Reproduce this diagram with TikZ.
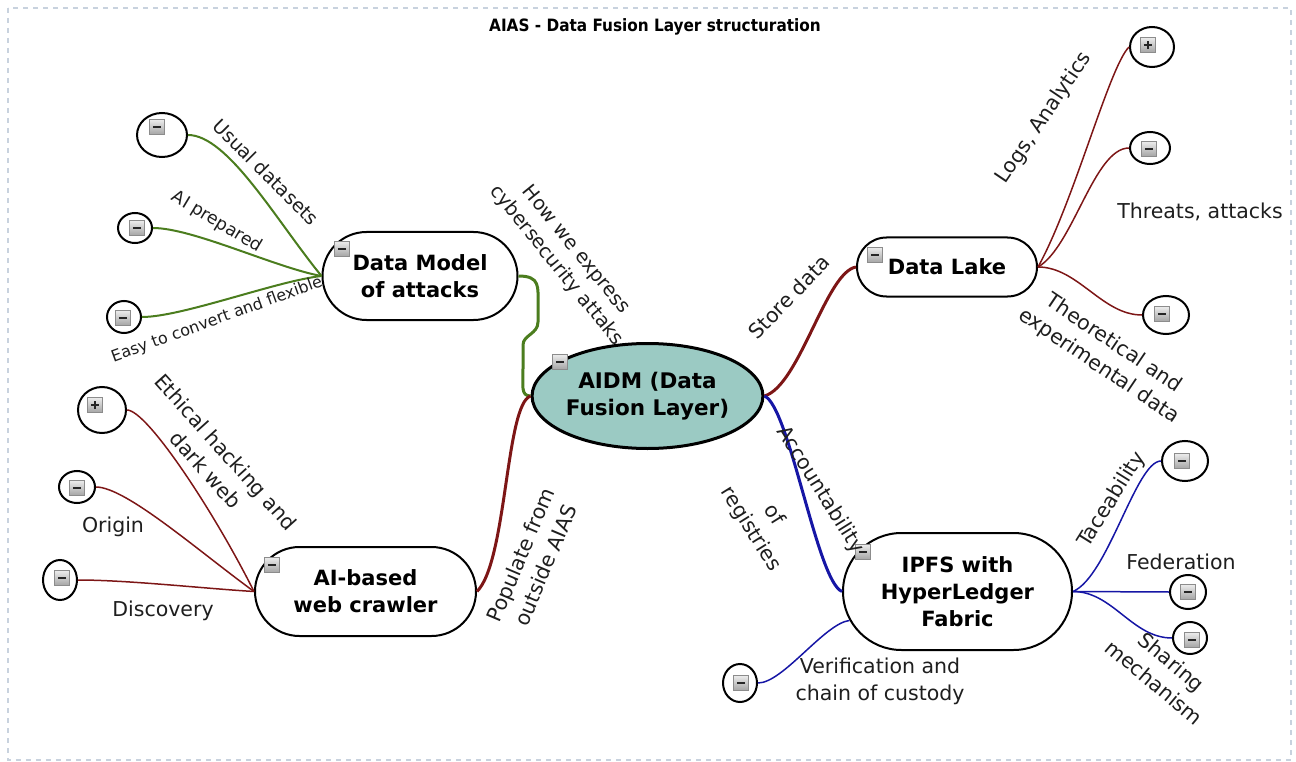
\documentclass[tikz,border=0pt]{standalone}
\usepackage{fontspec}
\setmainfont{DejaVu Sans}
\newfontfamily\condfont{DejaVu Sans Condensed}
\usetikzlibrary{shapes.geometric,shapes.misc}

\definecolor{aidmfill}{RGB}{155,202,195}
\definecolor{lgreen}{RGB}{75,125,30}
\definecolor{lred}{RGB}{125,22,22}
\definecolor{lblue}{RGB}{22,22,165}
\definecolor{framecol}{RGB}{200,210,222}
\definecolor{lbltext}{RGB}{30,30,30}

\tikzset{
  topic/.style={rounded rectangle, draw=black, line width=2pt, fill=white,
    align=center, inner sep=0pt, font=\bfseries\fontsize{21}{27}\selectfont},
  leaf/.style={ellipse, draw=black, line width=2pt, fill=white, inner sep=0pt},
  lbl/.style={text=lbltext, align=center, inner sep=0pt,
    font=\fontsize{20.5}{27}\selectfont},
  mainlink/.style={line width=3pt},
  leaflink/.style={line width=1.5pt},
  iconbase/.style={rectangle, draw=black!45, line width=0.8pt,
    top color=black!8, bottom color=black!35, minimum size=14.5pt, inner sep=0pt},
  minusicon/.style={iconbase, path picture={
    \draw[line width=2pt, black!85]
      ([xshift=-4.2pt]path picture bounding box.center) --
      ([xshift=4.2pt]path picture bounding box.center);}},
  plusicon/.style={iconbase, path picture={
    \draw[line width=1.8pt, black!85]
      ([xshift=-4.2pt]path picture bounding box.center) --
      ([xshift=4.2pt]path picture bounding box.center)
      ([yshift=-4.2pt]path picture bounding box.center) --
      ([yshift=4.2pt]path picture bounding box.center);}}
}

\begin{document}
\begin{tikzpicture}[x=1pt, y=-1pt]
\useasboundingbox (0,0) rectangle (1296,762);

% page frame
\draw[framecol, line width=1.5pt, dash pattern=on 5pt off 5pt] (8,8) rectangle (1291,760);

% title
\node[font=\condfont\bfseries\fontsize{17}{20}\selectfont] (title) at (655,27)
  {AIAS - Data Fusion Layer structuration};

% central topic and main branches
\node[ellipse, draw=black, line width=3pt, fill=aidmfill, inner sep=0pt,
  minimum width=215pt, minimum height=105pt, align=center,
  font=\bfseries\fontsize{21.5}{27}\selectfont] (aidm) at (647.5,396)
  {AIDM (Data\\Fusion Layer)};
\node[topic, minimum width=195pt, minimum height=88pt] (dm) at (420,276) {Data Model\\of attacks};
\node[topic, minimum width=180pt, minimum height=59pt] (dl) at (947,267) {Data Lake};
\node[topic, minimum width=221pt, minimum height=89pt] (cr) at (365.5,591.5) {AI-based\\web crawler};
\node[topic, minimum width=229pt, minimum height=117pt] (ipfs) at (957.5,591.5) {IPFS with\\HyperLedger\\Fabric};

% leaves
\node[leaf, minimum width=50pt, minimum height=44pt] (us) at (162,135) {};
\node[leaf, minimum width=34pt, minimum height=30pt] (ap) at (135,228) {};
\node[leaf, minimum width=34pt, minimum height=32pt] (ez) at (124,317) {};
\node[leaf, minimum width=48pt, minimum height=46pt] (eh) at (102,410) {};
\node[leaf, minimum width=36pt, minimum height=32pt] (og) at (77,487) {};
\node[leaf, minimum width=34pt, minimum height=40pt] (dv) at (60,580) {};
\node[leaf, minimum width=44pt, minimum height=40pt] (lg) at (1152,47) {};
\node[leaf, minimum width=40pt, minimum height=32pt] (th) at (1150,148) {};
\node[leaf, minimum width=46pt, minimum height=38pt] (te) at (1166,315) {};
\node[leaf, minimum width=46pt, minimum height=40pt] (ta) at (1185,461) {};
\node[leaf, minimum width=36pt, minimum height=34pt] (fe) at (1188,592) {};
\node[leaf, minimum width=34pt, minimum height=32pt] (sh) at (1190,638) {};
\node[leaf, minimum width=34pt, minimum height=38pt] (vf) at (740,683) {};

% main connectors
\draw[mainlink, lgreen] (dm.east) .. controls +(22,0) and +(0,-18) .. (538,305)
  -- (538,322) .. controls +(0,12) and +(0,-10) .. (523,345)
  -- (523,368) .. controls +(0,18) and +(-10,0) .. (aidm.west);
\draw[mainlink, lred] (aidm.west) .. controls +(-25,8) and +(30,-30) .. (cr.east);
\draw[mainlink, lred] (aidm.east) .. controls +(35,-10) and +(-30,5) .. (dl.west);
\draw[mainlink, lblue] (aidm.east) .. controls +(25,10) and +(-25,-10) .. (ipfs.west);

% leaf connectors
\draw[leaflink, lgreen, line width=2pt] (us.east) .. controls +(40,0) and +(-45,-55) .. (dm.west);
\draw[leaflink, lgreen, line width=2pt] (ap.east) .. controls +(40,0) and +(-45,-8) .. (dm.west);
\draw[leaflink, lgreen, line width=2pt] (ez.east) .. controls +(40,0) and +(-45,5) .. (dm.west);

\draw[leaflink, lred] (eh.east) .. controls +(20,0) and +(-40,-80) .. (cr.west);
\draw[leaflink, lred] (og.east) .. controls +(30,0) and +(-55,-40) .. (cr.west);
\draw[leaflink, lred] (dv.east) .. controls +(50,0) and +(-50,-3) .. (cr.west);

\draw[leaflink, lred] (dl.east) .. controls +(36,-65) and +(-20,20) .. (lg.west);
\draw[leaflink, lred] (dl.east) .. controls +(35,-20) and +(-35,0) .. (th.west);
\draw[leaflink, lred] (dl.east) .. controls +(40,0) and +(-40,0) .. (te.west);

\draw[leaflink, lblue] (ipfs.east) .. controls +(35,-15) and +(-25,0) .. (ta.west);
\draw[leaflink, lblue] (ipfs.east) -- (fe.west);
\draw[leaflink, lblue] (ipfs.east) .. controls +(40,0) and +(-40,0) .. (sh.west);
\draw[leaflink, lblue] (ipfs.195) .. controls +(-25,3) and +(25,0) .. (vf.east);

% collapse / expand buttons
\node[minusicon] (i-aidm) at (560,362) {};
\node[minusicon] (i-dm) at (342,249) {};
\node[minusicon] (i-dl) at (875,255) {};
\node[minusicon] (i-cr) at (272,565) {};
\node[minusicon] (i-ipfs) at (863,552) {};
\node[minusicon] (i-us) at (157,127) {};
\node[minusicon] (i-ap) at (137,228) {};
\node[minusicon] (i-ez) at (123,318) {};
\node[plusicon] (i-eh) at (95,405) {};
\node[minusicon] (i-og) at (77,488) {};
\node[minusicon] (i-dv) at (62,578) {};
\node[plusicon] (i-lg) at (1148,45) {};
\node[minusicon] (i-th) at (1149,149) {};
\node[minusicon] (i-te) at (1162,314) {};
\node[minusicon] (i-ta) at (1182,461) {};
\node[minusicon] (i-fe) at (1188,592) {};
\node[minusicon] (i-sh) at (1192,640) {};
\node[minusicon] (i-vf) at (741,683) {};

% branch labels
\node[lbl, font=\fontsize{19}{24}\selectfont, rotate=-45] (l-us) at (266,172) {Usual datasets};
\node[lbl, font=\fontsize{17.5}{22}\selectfont, rotate=-31] (l-ap) at (217,222) {AI prepared};
\node[lbl, font=\fontsize{16}{20}\selectfont, rotate=20] (l-ez) at (217,320) {Easy to convert and flexible};
\node[lbl, font=\fontsize{19.5}{25}\selectfont, rotate=-51] (l-how) at (566,258) {How we express\\cybersecurity attaks};
\node[lbl, rotate=46] (l-store) at (789,297) {Store data};
\node[lbl, rotate=56] (l-lg) at (1044,118) {Logs, Analytics};
\node[lbl] (l-th) at (1200,212) {Threats, attacks};
\node[lbl, rotate=-34] (l-te) at (1106,355) {Theoretical and\\experimental data};
\node[lbl, rotate=-48] (l-eh) at (216,461) {Ethical hacking and\\dark web};
\node[lbl] (l-og) at (113,527) {Origin};
\node[lbl] (l-dv) at (163,611) {Discovery};
\node[lbl, rotate=67] (l-pop) at (533,560) {Populate from\\outside AIAS};
\node[lbl, rotate=-58] (l-acc) at (820,490) {Accountability};
\node[lbl, rotate=-58] (l-reg) at (762,522) {of\\registries};
\node[lbl, rotate=58] (l-ta) at (1112,500) {Taceability};
\node[lbl] (l-fe) at (1181,562) {Federation};
\node[lbl, rotate=-40] (l-sh) at (1163,672) {Sharing\\mechanism};
\node[lbl] (l-vf) at (880,681) {Verification and\\chain of custody};
\end{tikzpicture}
\end{document}
